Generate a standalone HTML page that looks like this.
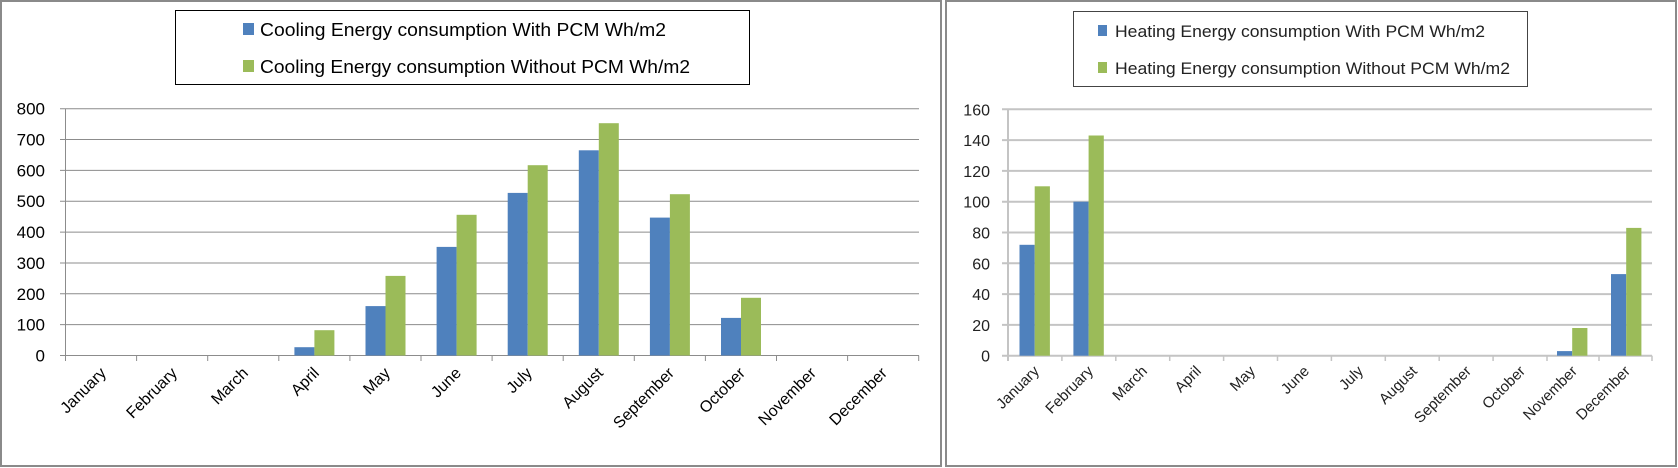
<!DOCTYPE html>
<html><head><meta charset="utf-8"><style>
html,body{margin:0;padding:0;background:#fff;}
svg{display:block;font-family:"Liberation Sans",sans-serif;}
</style></head><body>
<svg width="1678" height="468" viewBox="0 0 1678 468" xmlns="http://www.w3.org/2000/svg">
<rect x="1" y="1" width="940" height="465" fill="#fff" stroke="#8a8a8a" stroke-width="2"/>
<rect x="946" y="1" width="730" height="465" fill="#fff" stroke="#8a8a8a" stroke-width="2"/>

<!-- LEFT CHART -->
<rect x="175.5" y="10.5" width="574" height="74" fill="#fff" stroke="#000" stroke-width="1"/>
<rect x="243" y="23" width="11" height="12" fill="#4F81BD"/>
<text x="260" y="36" font-size="18" textLength="406" lengthAdjust="spacingAndGlyphs">Cooling  Energy consumption With PCM Wh/m2</text>
<rect x="243" y="60" width="11" height="12" fill="#9BBB59"/>
<text x="260" y="73" font-size="18" textLength="430" lengthAdjust="spacingAndGlyphs">Cooling Energy consumption Without PCM Wh/m2</text>

<g stroke="#8c8c8c" stroke-width="1">
<line x1="60" x2="919" y1="108.7" y2="108.7"/>
<line x1="60" x2="919" y1="139.55" y2="139.55"/>
<line x1="60" x2="919" y1="170.4" y2="170.4"/>
<line x1="60" x2="919" y1="201.25" y2="201.25"/>
<line x1="60" x2="919" y1="232.1" y2="232.1"/>
<line x1="60" x2="919" y1="262.95" y2="262.95"/>
<line x1="60" x2="919" y1="293.8" y2="293.8"/>
<line x1="60" x2="919" y1="324.65" y2="324.65"/>
<line x1="60" x2="919" y1="355.5" y2="355.5"/>
<line x1="65.5" x2="65.5" y1="108.7" y2="361"/>
</g>
<g stroke="#8c8c8c" stroke-width="1">
<line x1="136.6" x2="136.6" y1="355.5" y2="361"/><line x1="207.7" x2="207.7" y1="355.5" y2="361"/>
<line x1="278.8" x2="278.8" y1="355.5" y2="361"/><line x1="349.9" x2="349.9" y1="355.5" y2="361"/>
<line x1="421" x2="421" y1="355.5" y2="361"/><line x1="492.1" x2="492.1" y1="355.5" y2="361"/>
<line x1="563.2" x2="563.2" y1="355.5" y2="361"/><line x1="634.3" x2="634.3" y1="355.5" y2="361"/>
<line x1="705.4" x2="705.4" y1="355.5" y2="361"/><line x1="776.5" x2="776.5" y1="355.5" y2="361"/>
<line x1="847.6" x2="847.6" y1="355.5" y2="361"/><line x1="918.7" x2="918.7" y1="355.5" y2="361"/>
</g>
<g font-size="17" text-anchor="end">
<text x="45" y="114.7">800</text><text x="45" y="145.5">700</text><text x="45" y="176.4">600</text>
<text x="45" y="207.2">500</text><text x="45" y="238.1">400</text><text x="45" y="268.9">300</text>
<text x="45" y="299.8">200</text><text x="45" y="330.6">100</text><text x="45" y="361.5">0</text>
</g>
<g fill="#4F81BD">
<rect x="294.4" y="347.2" width="20" height="8.3"/>
<rect x="365.5" y="306.1" width="20" height="49.4"/>
<rect x="436.6" y="246.9" width="20" height="108.6"/>
<rect x="507.7" y="192.9" width="20" height="162.6"/>
<rect x="578.8" y="150.3" width="20" height="205.2"/>
<rect x="649.9" y="217.6" width="20" height="137.9"/>
<rect x="721" y="317.9" width="20" height="37.6"/>
</g>
<g fill="#9BBB59">
<rect x="314.4" y="330.2" width="20" height="25.3"/>
<rect x="385.5" y="275.9" width="20" height="79.6"/>
<rect x="456.6" y="214.8" width="20" height="140.7"/>
<rect x="527.7" y="165.2" width="20" height="190.3"/>
<rect x="598.8" y="123.2" width="20" height="232.3"/>
<rect x="669.9" y="194.2" width="20" height="161.3"/>
<rect x="741" y="297.8" width="20" height="57.7"/>
</g>
<g font-size="16" text-anchor="end">
<text transform="translate(107,374) rotate(-45)">January</text>
<text transform="translate(178,374) rotate(-45)">February</text>
<text transform="translate(249,374) rotate(-45)">March</text>
<text transform="translate(320,374) rotate(-45)">April</text>
<text transform="translate(391,374) rotate(-45)">May</text>
<text transform="translate(462,374) rotate(-45)">June</text>
<text transform="translate(533,374) rotate(-45)">July</text>
<text transform="translate(604,374) rotate(-45)">August</text>
<text transform="translate(675,374) rotate(-45)">September</text>
<text transform="translate(746,374) rotate(-45)">October</text>
<text transform="translate(817,374) rotate(-45)">November</text>
<text transform="translate(888,374) rotate(-45)">December</text>
</g>

<!-- RIGHT CHART -->
<rect x="1073.5" y="11.5" width="454" height="75" fill="#fff" stroke="#444" stroke-width="1"/>
<rect x="1098" y="25" width="9" height="11" fill="#4F81BD"/>
<text x="1115" y="37" font-size="17" fill="#222" textLength="370" lengthAdjust="spacingAndGlyphs">Heating Energy consumption With PCM Wh/m2</text>
<rect x="1098" y="62" width="9" height="11" fill="#9BBB59"/>
<text x="1115" y="74" font-size="17" fill="#222" textLength="395" lengthAdjust="spacingAndGlyphs">Heating Energy consumption Without PCM Wh/m2</text>

<g stroke="#c4c4c4" stroke-width="2">
<line x1="1002" x2="1652" y1="109.3" y2="109.3"/>
<line x1="1002" x2="1652" y1="140.1" y2="140.1"/>
<line x1="1002" x2="1652" y1="170.9" y2="170.9"/>
<line x1="1002" x2="1652" y1="201.7" y2="201.7"/>
<line x1="1002" x2="1652" y1="232.5" y2="232.5"/>
<line x1="1002" x2="1652" y1="263.3" y2="263.3"/>
<line x1="1002" x2="1652" y1="294.1" y2="294.1"/>
<line x1="1002" x2="1652" y1="324.9" y2="324.9"/>
<line x1="1002" x2="1652" y1="355.7" y2="355.7"/>
<line x1="1008" x2="1008" y1="109.3" y2="361"/>
</g>
<g stroke="#c4c4c4" stroke-width="1.5">
<line x1="1061.9" x2="1061.9" y1="355.7" y2="361"/><line x1="1115.8" x2="1115.8" y1="355.7" y2="361"/>
<line x1="1169.7" x2="1169.7" y1="355.7" y2="361"/><line x1="1223.6" x2="1223.6" y1="355.7" y2="361"/>
<line x1="1277.5" x2="1277.5" y1="355.7" y2="361"/><line x1="1331.4" x2="1331.4" y1="355.7" y2="361"/>
<line x1="1385.3" x2="1385.3" y1="355.7" y2="361"/><line x1="1439.2" x2="1439.2" y1="355.7" y2="361"/>
<line x1="1493.1" x2="1493.1" y1="355.7" y2="361"/><line x1="1547" x2="1547" y1="355.7" y2="361"/>
<line x1="1599" x2="1599" y1="355.7" y2="361"/><line x1="1652" x2="1652" y1="355.7" y2="361"/>
</g>
<g font-size="16" text-anchor="end" fill="#222">
<text x="990" y="115.3">160</text><text x="990" y="146.1">140</text><text x="990" y="176.9">120</text>
<text x="990" y="207.7">100</text><text x="990" y="238.5">80</text><text x="990" y="269.3">60</text>
<text x="990" y="300.1">40</text><text x="990" y="330.9">20</text><text x="990" y="361.7">0</text>
</g>
<g fill="#4F81BD">
<rect x="1019.5" y="244.8" width="15.2" height="110.9"/>
<rect x="1073.4" y="201.7" width="15.2" height="154"/>
<rect x="1557" y="351.1" width="15.2" height="4.6"/>
<rect x="1611" y="274.1" width="15.2" height="81.6"/>
</g>
<g fill="#9BBB59">
<rect x="1034.7" y="186.3" width="15.2" height="169.4"/>
<rect x="1088.6" y="135.5" width="15.2" height="220.2"/>
<rect x="1572.2" y="328" width="15.2" height="27.7"/>
<rect x="1626.2" y="227.9" width="15.2" height="127.8"/>
</g>
<g font-size="15" text-anchor="end" fill="#222">
<text transform="translate(1040,372) rotate(-45)">January</text>
<text transform="translate(1094,372) rotate(-45)">February</text>
<text transform="translate(1148,372) rotate(-45)">March</text>
<text transform="translate(1202,372) rotate(-45)">April</text>
<text transform="translate(1256,372) rotate(-45)">May</text>
<text transform="translate(1310,372) rotate(-45)">June</text>
<text transform="translate(1364,372) rotate(-45)">July</text>
<text transform="translate(1418,372) rotate(-45)">August</text>
<text transform="translate(1472,372) rotate(-45)">September</text>
<text transform="translate(1526,372) rotate(-45)">October</text>
<text transform="translate(1578,372) rotate(-45)">November</text>
<text transform="translate(1631,372) rotate(-45)">December</text>
</g>
</svg>
</body></html>
